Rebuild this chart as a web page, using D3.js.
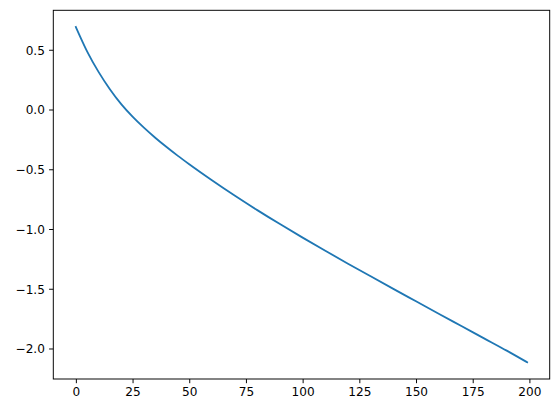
<!DOCTYPE html>
<html>
<head>
<meta charset="utf-8">
<script src="https://cdn.jsdelivr.net/npm/d3@7"></script>
<style>
  html, body { margin: 0; padding: 0; background: #fff; }
  svg { display: block; }
  text { font-family: "DejaVu Sans", sans-serif; font-size: 12.1px; fill: #000; }
</style>
</head>
<body>
<svg id="chart" width="559" height="413"></svg>
<script>
const xValues = [0, 5, 10, 15, 20, 25, 30, 35, 40, 45, 50, 60, 70, 80, 90, 100, 110, 120, 130, 140, 150, 160, 170, 180, 190, 199];
const yValues = [0.69, 0.485, 0.315, 0.17, 0.045, -0.06, -0.152, -0.236, -0.314, -0.388, -0.458, -0.592, -0.72, -0.842, -0.959, -1.072, -1.182, -1.29, -1.396, -1.501, -1.605, -1.709, -1.812, -1.915, -2.018, -2.115];
const xTicks = [0, 25, 50, 75, 100, 125, 150, 175, 200];
const yTicks = [0.5, 0.0, -0.5, -1.0, -1.5, -2.0];

(function () {
const data = xValues.map((x, i) => ({ x, y: yValues[i] }));

const mLeft = 53.3, mRight = 549.7, mTop = 10.3, mBottom = 379;
const svg = d3.select("#chart");

const xExt = d3.extent(xValues), yExt = d3.extent(yValues);
const xm = (xExt[1] - xExt[0]) * 0.05, ym = (yExt[1] - yExt[0]) * 0.05;
const x = d3.scaleLinear().domain([xExt[0] - xm, xExt[1] + xm]).range([mLeft, mRight]);
const y = d3.scaleLinear().domain([yExt[0] - ym, yExt[1] + ym]).range([mBottom, mTop]);

const fmtY = d3.format(".1f");

// x axis
const xAxis = d3.axisBottom(x).tickValues(xTicks).tickSize(4.2).tickPadding(3.9).tickFormat(d3.format("d"));
const gx = svg.append("g").attr("transform", `translate(0,${mBottom})`).call(xAxis);
gx.select(".domain").remove();
gx.selectAll(".tick line").attr("stroke", "#000").attr("stroke-width", 0.97);
gx.selectAll(".tick text").attr("font-family", "DejaVu Sans").attr("font-size", 12.1).attr("fill", "#000");

// y axis
const yAxis = d3.axisLeft(y).tickValues(yTicks).tickSize(4.2).tickPadding(4.2).tickFormat(d => fmtY(d));
const gy = svg.append("g").attr("transform", `translate(${mLeft},0)`).call(yAxis);
gy.select(".domain").remove();
gy.selectAll(".tick line").attr("stroke", "#000").attr("stroke-width", 0.97);
gy.selectAll(".tick text").attr("font-family", "DejaVu Sans").attr("font-size", 12.1).attr("fill", "#000").attr("dy", "0.36em");

// line
const line = d3.line().x(d => x(d.x)).y(d => y(d.y)).curve(d3.curveMonotoneX);
svg.append("path").datum(data)
  .attr("fill", "none").attr("stroke", "#1f77b4").attr("stroke-width", 1.8)
  .attr("stroke-linecap", "square").attr("stroke-linejoin", "round")
  .attr("d", line);

// frame
svg.append("rect").attr("x", mLeft).attr("y", mTop).attr("width", mRight - mLeft).attr("height", mBottom - mTop)
  .attr("fill", "none").attr("stroke", "#000").attr("stroke-width", 0.97);
})();
</script>
</body>
</html>
